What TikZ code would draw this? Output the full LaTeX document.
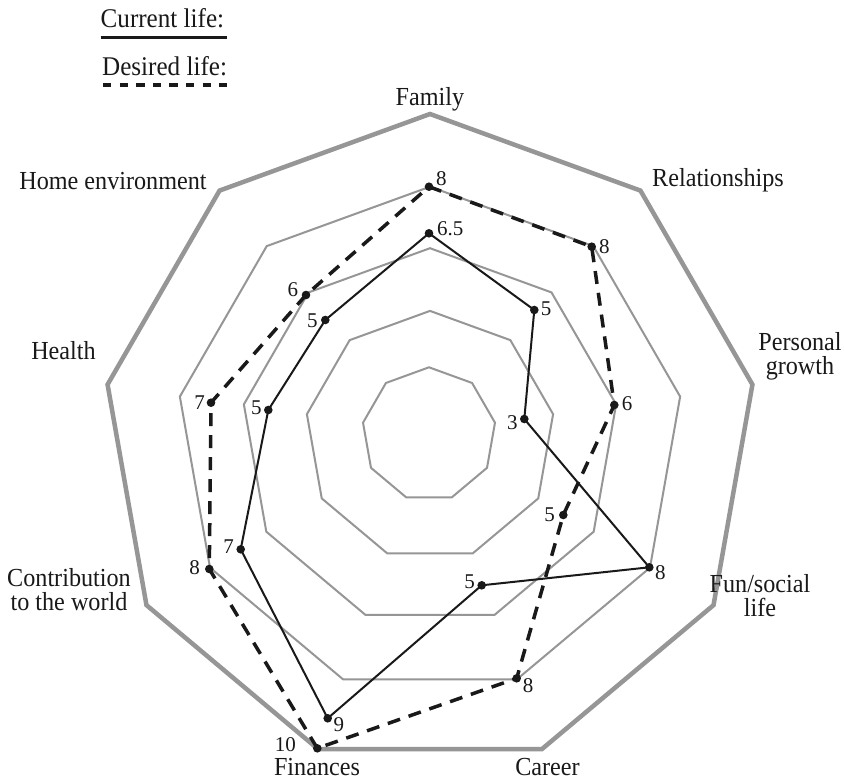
\documentclass[tikz,border=0pt]{standalone}
\usepackage{fontspec}
\setmainfont{Liberation Serif}[FakeStretch=0.93]
\newfontfamily\numfont{Liberation Serif}
\definecolor{ringgray}{RGB}{150,150,150}
\definecolor{ink}{RGB}{25,25,25}
\tikzset{
  ring/.style={draw=ringgray, line width=2pt, line join=miter},
  outerring/.style={draw=ringgray, line width=4.5pt, line join=miter},
  cur/.style={draw=ink, line width=2pt, line join=round},
  des/.style={draw=ink, line width=3.5pt, dash pattern=on 13pt off 9pt},
  axislab/.style={font=\fontsize{26}{24}\selectfont, inner sep=0pt, align=center, text=ink},
  numlab/.style={font=\numfont\fontsize{21}{24}\selectfont, inner sep=0pt, text=ink},
  leglab/.style={font=\fontsize{27}{24}\selectfont, inner sep=0pt, text=ink},
}
\newcommand\mynonagon[4]{\draw[#1] ({#2+#4*cos(90)},{#3-#4*sin(90)}) \foreach \k in {1,...,8}{ -- ({#2+#4*cos(90+40*\k)},{#3-#4*sin(90+40*\k)}) } -- cycle;}
\begin{document}
\begin{tikzpicture}[x=1pt,y=-1pt]
\useasboundingbox[fill=white] (0,0) rectangle (844,784);
% rings
\mynonagon{ring}{429}{434.3}{67}
\mynonagon{ring}{430}{435.9}{125}
\mynonagon{ring}{430}{437.2}{189}
\mynonagon{ring}{430}{440.7}{254}
\mynonagon{outerring}{430}{441.4}{327.4}
% data points
\coordinate (c1) at (429,233.3);
\coordinate (c2) at (534.3,310);
\coordinate (c3) at (524.3,419);
\coordinate (c4) at (649.3,567.3);
\coordinate (c5) at (481.7,585.3);
\coordinate (c6) at (327.7,718.3);
\coordinate (c7) at (240.7,549.3);
\coordinate (c8) at (268.3,410);
\coordinate (c9) at (325.3,320);
\coordinate (d1) at (429,186.7);
\coordinate (d2) at (591.7,246.7);
\coordinate (d3) at (614.3,405);
\coordinate (d4) at (563.3,515);
\coordinate (d5) at (516.7,678.3);
\coordinate (d6) at (317.3,748.3);
\coordinate (d7) at (209.3,569);
\coordinate (d8) at (211,402.7);
\coordinate (d9) at (306,295);
\draw[des] (d1) -- (d2) -- (d3) -- (d4) -- (d5) -- (d6) -- (d7) -- (d8) -- (d9) -- cycle;
\draw[cur] (c1) -- (c2) -- (c3) -- (c4) -- (c5) -- (c6) -- (c7) -- (c8) -- (c9) -- cycle;
\foreach \p in {c1,c2,c3,c4,c5,c6,c7,c8,c9,d1,d2,d3,d4,d5,d6,d7,d8,d9}{\fill[ink] (\p) circle (4.3pt);}
% value labels
\node[numlab, anchor=base west] (n1) at (436,185) {8};
\node[numlab, anchor=base west] (n2) at (437,235.7) {6.5};
\node[numlab, anchor=base west] (n3) at (599,253.3) {8};
\node[numlab, anchor=base west] (n4) at (540.7,315.7) {5};
\node[numlab, anchor=base west] (n5) at (621.7,410) {6};
\node[numlab, anchor=base east] (n6) at (517.7,429) {3};
\node[numlab, anchor=base west] (n7) at (655,579.3) {8};
\node[numlab, anchor=base east] (n8) at (555,521.7) {5};
\node[numlab, anchor=base east] (n9) at (475,588.3) {5};
\node[numlab, anchor=base west] (n10) at (522.7,692.7) {8};
\node[numlab, anchor=base west] (n11) at (333.3,731) {9};
\node[numlab, anchor=base east] (n12) at (296,751) {10};
\node[numlab, anchor=base east] (n13) at (234,553.3) {7};
\node[numlab, anchor=base east] (n14) at (200,574) {8};
\node[numlab, anchor=base east] (n15) at (261.7,414) {5};
\node[numlab, anchor=base east] (n16) at (205,409.3) {7};
\node[numlab, anchor=base east] (n17) at (317.7,327.3) {5};
\node[numlab, anchor=base east] (n18) at (298.3,296) {6};
% axis labels
\node[axislab, anchor=base] (a1) at (430,105.5) {Family};
\node[axislab, anchor=base west] (a2) at (652,186) {Relationships};
\node[axislab, anchor=base] (a3) at (800,374) {Personal\\growth};
\node[axislab, anchor=base] (a4) at (760,616) {Fun/social\\life};
\node[axislab, anchor=base] (a5) at (547.5,775) {Career};
\node[axislab, anchor=base] (a6) at (317,775) {Finances};
\node[axislab, anchor=base] (a7) at (69,610) {Contribution\\to the world};
\node[axislab, anchor=base] (a8) at (63.5,359) {Health};
\node[axislab, anchor=base] (a9) at (113,189) {Home environment};
% legend
\node[leglab, anchor=base west] (l1) at (100.5,27.5) {Current life:};
\node[leglab, anchor=base west] (l2) at (102,76) {Desired life:};
\coordinate (la) at (100.7,37.7);
\coordinate (lb) at (226.7,37.7);
\coordinate (lc) at (103,85);
\coordinate (ld) at (227,85);
\draw[draw=ink, line width=2.5pt] (la) -- (lb);
\draw[draw=ink, line width=4pt, dash pattern=on 8.3pt off 8.3pt] (lc) -- (ld);
\end{tikzpicture}
\end{document}
